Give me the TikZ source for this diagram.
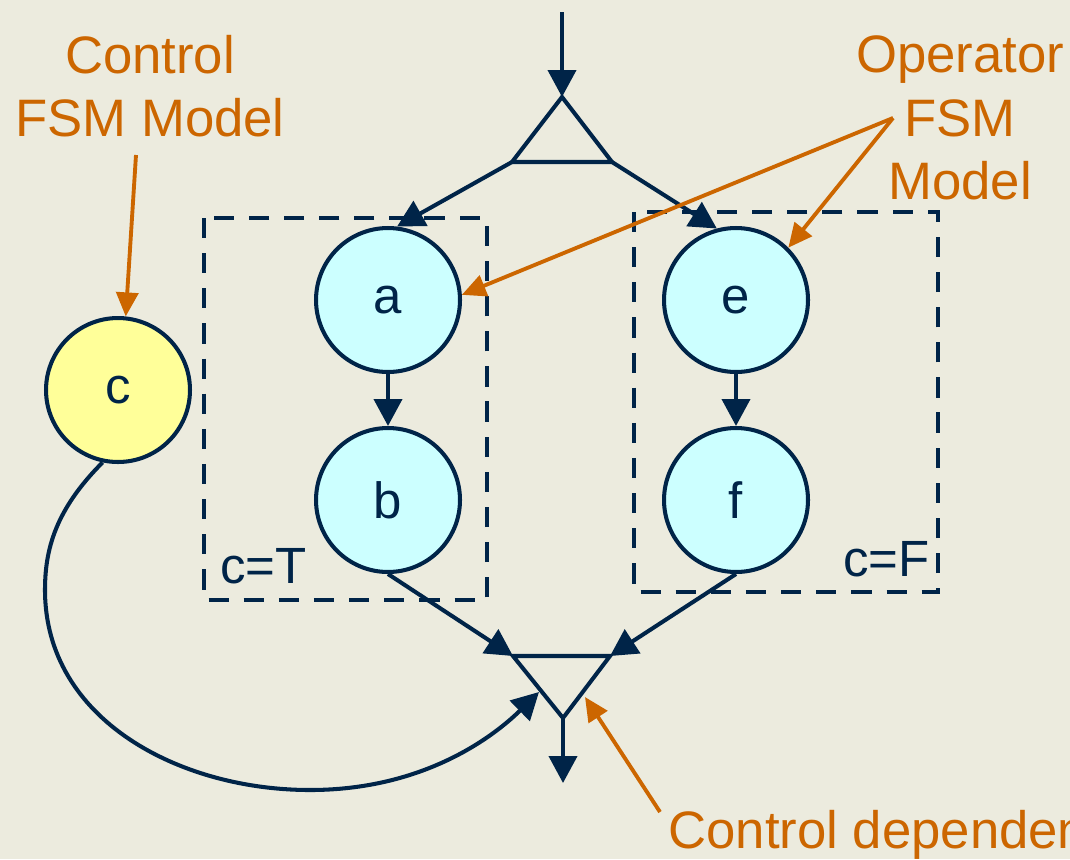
\documentclass[tikz,border=0pt]{standalone}
\usepackage{fontspec}
\setmainfont{Liberation Sans}
\usetikzlibrary{arrows.meta,positioning}

\definecolor{navy}{RGB}{0,36,72}
\definecolor{rust}{RGB}{204,102,0}
\definecolor{opfill}{RGB}{204,255,255}
\definecolor{ctlfill}{RGB}{255,255,153}
\definecolor{paper}{RGB}{236,235,222}

\begin{document}
\begin{tikzpicture}[x=0.02cm,y=-0.02cm]

    \tikzstyle{op} = [draw=navy, circle, line width=2.3pt, fill=opfill,
    minimum size=2.88cm, inner sep=0pt, text=navy,
    font=\fontsize{29}{33}\selectfont]

    \tikzstyle{ctl} = [op, fill=ctlfill]

    \tikzstyle{line} = [draw=navy, line width=2.3pt, line join=miter]
    \tikzstyle{flow} = [line, -{Triangle[length=0.54cm,width=0.56cm]}]
    \tikzstyle{group} = [draw=navy, line width=2.3pt,
    dash pattern=on 11.5pt off 8.5pt]
    \tikzstyle{note} = [draw=rust, line width=2.2pt,
    -{Triangle[length=0.48cm,width=0.44cm]}]
    \tikzstyle{lbl} = [text=rust, font=\fontsize{30}{36}\selectfont,
    align=center]
    \tikzstyle{cond} = [text=navy, font=\fontsize{29}{33}\selectfont,
    anchor=base west, inner sep=0pt]

    \fill[paper] (0,0) rectangle (1070,859);
    \clip (0,0) rectangle (1070,859);

    % branch / merge triangles
    \coordinate (src) at (562,12);
    \coordinate (top) at (562,97);
    \coordinate (fl) at (512,162);
    \coordinate (fr) at (612,162);
    \coordinate (jl) at (513,656);
    \coordinate (jr) at (610,656);
    \coordinate (jb) at (563,718);
    \coordinate (sink) at (563,783);
    \coordinate (jc) at (539,692);
    \coordinate (jd) at (585,697);

    \draw[group] (204,218) rectangle (487,600);
    \draw[group] (634,212) rectangle (938,592);
    \draw
    (220,583) node [cond] (ct) {c=T}
    (843,576) node [cond] (cf) {c=F}
    ;

    \draw
    (388,300) node [op] (a) {a}
    (388,500) node [op] (b) {b}
    (736,300) node [op] (e) {e}
    (736,500) node [op] (f) {f}
    (118,390) node [ctl] (c) {c}
    ;

    \draw[flow] (src) -- (top);
    \draw[line] (top) -- (fl) -- (fr) -- cycle;
    \draw[flow] (fl) -- (a.83);
    \draw[flow] (fr) -- (e.105);
    \draw[flow] (a) -- (b);
    \draw[flow] (e) -- (f);
    \draw[flow] (b.south) -- (jl);
    \draw[flow] (f.south) -- (jr);
    \draw[line] (jl) -- (jr) -- (jb) -- cycle;
    \draw[flow] (jb) -- (sink);
    \draw[flow] (c.258) .. controls (55,510) and (45,550) .. (45,590)
    .. controls (45,720) and (180,790) .. (310,790)
    .. controls (420,790) and (490,740) .. (jc);

    % annotations
    \draw
    (150,86) node [lbl] (ctllbl) {Control\\FSM Model}
    (960,118) node [lbl] (oplbl) {Operator\\FSM\\Model}
    (668,848) node [lbl, anchor=base west, inner sep=0pt] (deplbl)
    {Control dependency}
    ;
    \coordinate (ctlsrc) at (136,155);
    \coordinate (opsrc) at (893,118);
    \coordinate (depsrc) at (660,812);

    \draw[note] (ctlsrc) -- (c.84);
    \draw[note] (opsrc) -- (a.4);
    \draw[note] (opsrc) -- (e.45);
    \draw[note] (depsrc) -- (jd);
\end{tikzpicture}
\end{document}
